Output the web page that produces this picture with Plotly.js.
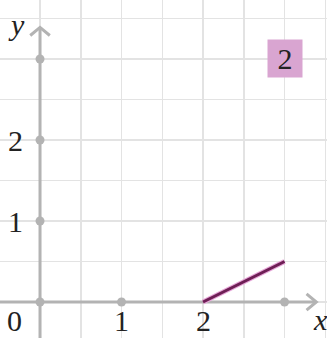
<!DOCTYPE html>
<html>
<head>
<meta charset="utf-8">
<script src="https://cdn.plot.ly/plotly-3.0.1.min.js"></script>
<style>html,body{margin:0;padding:0;background:#fff}#chart{width:327px;height:338px}</style>
</head>
<body>
<div id="chart"></div>
<script>
// Segment of the graph
const segX = [2, 3];
const segY = [0, 0.5];

// Tick dots on the axes
const dotX = [0, 1, 3, 0, 0, 0];
const dotY = [0, 0, 0, 1, 2, 3];

// Tick labels
const xTickVals = [1, 2];
const xTickText = ['1', '2'];
const yTickVals = [1, 2];
const yTickText = ['1', '2'];

// Tag in the corner
const tagText = '2';
const tagPos = [3, 3];

const xRange = [-0.491, 3.521];
const yRange = [-0.444, 3.728];
const axisTip = 3.39;
const axisGrey = '#b3b3b3';
const serif = '"Liberation Serif", "DejaVu Serif", serif';
const labelFont = {family: serif, size: 30, color: '#222'};

const traces = [
  // axes
  {x: [xRange[0], axisTip], y: [0, 0], mode: 'lines', line: {color: axisGrey, width: 3}, hoverinfo: 'skip'},
  {x: [0, 0], y: [yRange[0], axisTip], mode: 'lines', line: {color: axisGrey, width: 3}, hoverinfo: 'skip'},
  // arrow chevrons
  {x: [axisTip - 0.12, axisTip, axisTip - 0.12], y: [0.1, 0, -0.1], mode: 'lines', line: {color: axisGrey, width: 3}, hoverinfo: 'skip'},
  {x: [-0.12, 0, 0.12], y: [axisTip - 0.1, axisTip, axisTip - 0.1], mode: 'lines', line: {color: axisGrey, width: 3}, hoverinfo: 'skip'},
  // tick dots
  {x: dotX, y: dotY, mode: 'markers', marker: {color: axisGrey, size: 9}, hoverinfo: 'skip'},
  // graph segment
  {x: segX, y: segY, mode: 'lines', line: {color: '#e6a6d8', width: 5}, hoverinfo: 'skip'},
  {x: segX, y: segY, mode: 'lines', line: {color: '#6e1f55', width: 3}, hoverinfo: 'skip'}
];

const annotations = [];
xTickVals.forEach((v, i) => annotations.push({x: v, y: -0.225, text: xTickText[i], showarrow: false, font: labelFont}));
yTickVals.forEach((v, i) => annotations.push({x: -0.3, y: v, text: yTickText[i], showarrow: false, font: labelFont}));
annotations.push({x: -0.31, y: -0.225, text: '0', showarrow: false, font: labelFont});
annotations.push({x: 3.44, y: -0.22, text: '<i>x</i>', showarrow: false, font: {family: serif, size: 30, color: '#222'}});
annotations.push({x: -0.29, y: 3.43, text: '<i>y</i>', showarrow: false, font: {family: serif, size: 30, color: '#222'}});
annotations.push({x: tagPos[0], y: tagPos[1], text: tagText, showarrow: false, bgcolor: '#d9a5d1', width: 32, height: 35, borderpad: 1, font: labelFont});

const layout = {
  width: 327, height: 338,
  margin: {l: 0, r: 0, t: 0, b: 0},
  paper_bgcolor: '#fff', plot_bgcolor: '#fff',
  showlegend: false,
  xaxis: {range: xRange, dtick: 0.5, tick0: 0, showgrid: true, gridcolor: '#e3e3e3', gridwidth: 1.5, zeroline: false, showticklabels: false, ticks: '', fixedrange: true},
  yaxis: {range: yRange, dtick: 0.5, tick0: 0, showgrid: true, gridcolor: '#e3e3e3', gridwidth: 1.5, zeroline: false, showticklabels: false, ticks: '', fixedrange: true},
  annotations: annotations
};

Plotly.newPlot('chart', traces, layout, {displayModeBar: false, staticPlot: true});
</script>
</body>
</html>
